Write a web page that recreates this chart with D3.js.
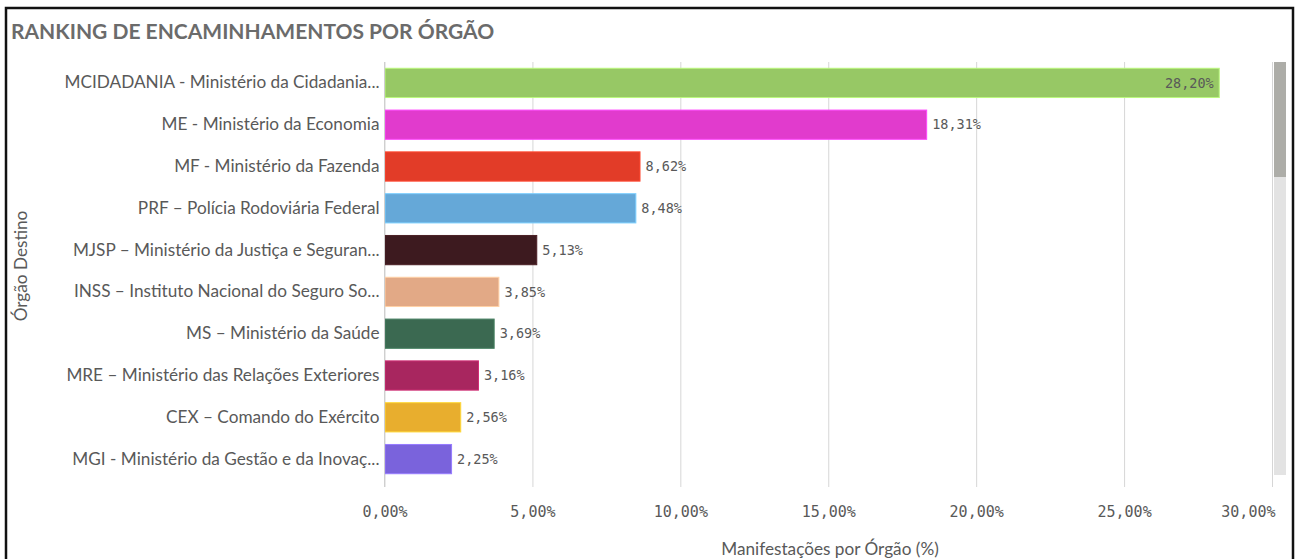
<!DOCTYPE html>
<html><head><meta charset="utf-8">
<script src="https://cdn.jsdelivr.net/npm/d3@7"></script>
<style>
html,body{margin:0;padding:0;background:#fff;}
svg{display:block;}
</style></head>
<body>
<svg id="chart" width="1297" height="559"></svg>
<script>
const categories = [
  "MCIDADANIA - Ministério da Cidadania...",
  "ME - Ministério da Economia",
  "MF - Ministério da Fazenda",
  "PRF – Polícia Rodoviária Federal",
  "MJSP – Ministério da Justiça e Seguran...",
  "INSS – Instituto Nacional do Seguro So...",
  "MS – Ministério da Saúde",
  "MRE – Ministério das Relações Exteriores",
  "CEX – Comando do Exército",
  "MGI - Ministério da Gestão e da Inovaç..."
];
const values = [28.20, 18.31, 8.62, 8.48, 5.13, 3.85, 3.69, 3.16, 2.56, 2.25];
const colors = ["#97c865","#e13bcd","#e23c28","#65a8d8","#3d1a1f","#e2a986","#3b6951","#a8265f","#e8ae2e","#7a63dc"];
const xTicks = [0, 5, 10, 15, 20, 25, 30];
const title = "RANKING DE ENCAMINHAMENTOS POR ÓRGÃO";
const xTitle = "Manifestações por Órgão (%)";
const yTitle = "Órgão Destino";

const fmt = v => v.toFixed(2).replace(".", ",") + "%";
const svg = d3.select("#chart");
const textCol = "#595959";
const sans = "Lato, 'Open Sans', sans-serif";
const mono = "'DejaVu Sans Mono', monospace";

// frame
svg.append("path").attr("d","M6,565 V8 H1293 V565").attr("fill","none").attr("stroke","#111").attr("stroke-width",2.5);

svg.append("text").attr("x",11).attr("y",39).text(title)
  .attr("font-family",sans).attr("font-weight","bold").attr("font-size",21).attr("fill","#6b6b6b");

const x = d3.scaleLinear().domain([0,30]).range([384.5,1272]);
const y = d3.scaleBand().domain(categories).range([62,480]).paddingInner(0.3).paddingOuter(0.15);

// gridlines + ticks
const xAxis = d3.axisBottom(x).tickValues(xTicks).tickFormat(fmt).tickSize(425).tickPadding(19);
const gx = svg.append("g").attr("transform","translate(0,62)").call(xAxis);
gx.select(".domain").remove();
gx.selectAll(".tick line").attr("stroke","#d6d6d6");
gx.selectAll(".tick text").attr("font-family",mono).attr("font-size",15).attr("fill",textCol);
gx.selectAll(".tick text").filter(d => d === 30).attr("text-anchor","end").attr("dx", 3);

// bars
svg.append("g").selectAll("rect").data(values).join("rect")
  .attr("x", x(0)+0.5)
  .attr("y",(d,i)=>y(categories[i]))
  .attr("width", d => x(d)-x(0))
  .attr("height", y.bandwidth())
  .attr("fill",(d,i)=>colors[i])
  .attr("stroke",(d,i)=>d3.color(colors[i]).brighter(0.6))
  .attr("stroke-width",1);

// value labels
svg.append("g").selectAll("text").data(values).join("text")
  .attr("x",(d,i)=> i===0 ? x(d)-5 : x(d)+6)
  .attr("y",(d,i)=>y(categories[i])+y.bandwidth()/2)
  .attr("dy","0.35em")
  .attr("text-anchor",(d,i)=> i===0 ? "end" : "start")
  .attr("font-family",mono).attr("font-size",13.5).attr("fill",textCol)
  .text(fmt);

// category axis
const yAxis = d3.axisLeft(y).tickSize(0).tickPadding(5);
const gy = svg.append("g").attr("transform","translate(384.5,0)").call(yAxis);
gy.select(".domain").remove();
gy.selectAll(".tick text").attr("font-family",sans).attr("font-size",17.2).attr("fill",textCol);
svg.append("line").attr("x1",384.5).attr("x2",384.5).attr("y1",62).attr("y2",487).attr("stroke","#cfcfcf");

// axis titles
svg.append("text").attr("x",830).attr("y",555).attr("text-anchor","middle").text(xTitle)
  .attr("font-family",sans).attr("font-size",17.2).attr("fill",textCol);
svg.append("text").attr("transform","translate(27,266) rotate(-90)").attr("text-anchor","middle").text(yTitle)
  .attr("font-family",sans).attr("font-size",17.2).attr("fill",textCol);

// scrollbar
svg.append("rect").attr("x",1274).attr("y",62).attr("width",12).attr("height",413).attr("fill","#e3e3e3");
svg.append("rect").attr("x",1274).attr("y",62).attr("width",12).attr("height",115).attr("fill","#adada8");
</script>
</body></html>
